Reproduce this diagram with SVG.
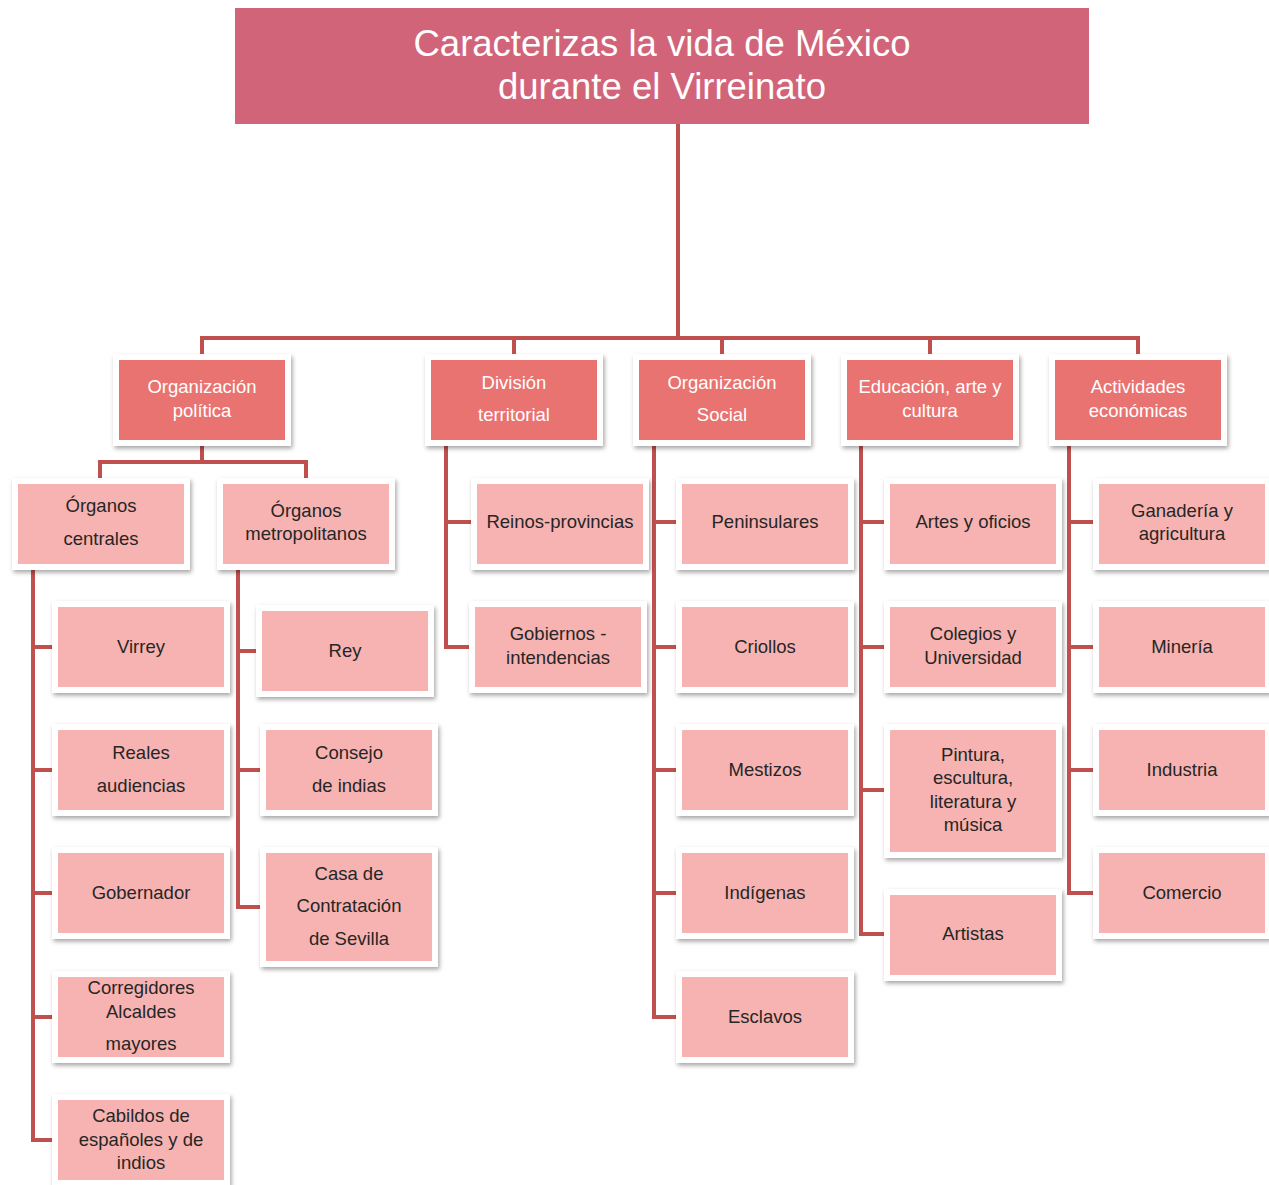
<svg xmlns="http://www.w3.org/2000/svg" width="1269" height="1185" viewBox="0 0 1269 1185">
<defs>
<filter id="sh" x="-10%" y="-10%" width="130%" height="140%">
<feDropShadow dx="1.5" dy="2.5" stdDeviation="2" flood-color="#000" flood-opacity="0.35"/>
</filter>
</defs>
<style>
.frame{fill:#fff;filter:url(#sh)}
.top{fill:#E97371}
.sub{fill:#F7B3B1}
.tt{font-family:"Liberation Sans",Arial,sans-serif;font-size:18.5px;fill:#fff;text-anchor:middle}
.st{font-family:"Liberation Sans",Arial,sans-serif;font-size:18.5px;fill:#262626;text-anchor:middle}
.title{font-family:"Liberation Sans",Arial,sans-serif;font-size:36.5px;fill:#fff;text-anchor:middle}
.ln{fill:none;stroke:#C0504D;stroke-width:4;stroke-linejoin:miter;stroke-linecap:butt}
</style>
<rect width="1269" height="1185" fill="#fff"/>

<g id="connectors">
<path class="ln" d="M678,124 V338 M202,360 V338 H1138 V360 M514,338 V360 M722,338 V360 M930,338 V360"/>
<path class="ln" d="M202,446 V462 M100,484 V462 H306 V484"/>
<path class="ln" d="M33,570 V1140 H58 M33,647 H58 M33,770 H58 M33,893 H58 M33,1017 H58"/>
<path class="ln" d="M238,570 V907 H266 M238,651 H262 M238,770 H266"/>
<path class="ln" d="M446,446 V647 H475 M446,522 H477"/>
<path class="ln" d="M654,446 V1017 H682 M654,522 H682 M654,647 H682 M654,770 H682 M654,893 H682"/>
<path class="ln" d="M861,446 V934 H890 M861,522 H890 M861,647 H890 M861,790 H890"/>
<path class="ln" d="M1069,446 V893 H1099 M1069,522 H1099 M1069,647 H1099 M1069,770 H1099"/>
</g>

<g id="title">
<rect x="235" y="8" width="854" height="116" fill="#D2647A"/>
<text class="title" x="662" y="56">Caracterizas la vida de México</text>
<text class="title" x="662" y="99">durante el Virreinato</text>
</g>

<g id="n-org-politica">
<rect class="frame" x="113" y="354" width="178" height="92"/>
<rect class="top" x="119" y="360" width="166" height="80"/>
<text class="tt" x="202" y="393">Organización</text>
<text class="tt" x="202" y="417">política</text>
</g>
<g id="n-division">
<rect class="frame" x="425" y="354" width="178" height="92"/>
<rect class="top" x="431" y="360" width="166" height="80"/>
<text class="tt" x="514" y="389">División</text>
<text class="tt" x="514" y="421">territorial</text>
</g>
<g id="n-org-social">
<rect class="frame" x="633" y="354" width="178" height="92"/>
<rect class="top" x="639" y="360" width="166" height="80"/>
<text class="tt" x="722" y="389">Organización</text>
<text class="tt" x="722" y="421">Social</text>
</g>
<g id="n-educacion">
<rect class="frame" x="841" y="354" width="178" height="92"/>
<rect class="top" x="847" y="360" width="166" height="80"/>
<text class="tt" x="930" y="393">Educación, arte y</text>
<text class="tt" x="930" y="417">cultura</text>
</g>
<g id="n-actividades">
<rect class="frame" x="1049" y="354" width="178" height="92"/>
<rect class="top" x="1055" y="360" width="166" height="80"/>
<text class="tt" x="1138" y="393">Actividades</text>
<text class="tt" x="1138" y="417">económicas</text>
</g>

<g id="n-organos-centrales">
<rect class="frame" x="12" y="478" width="178" height="92"/>
<rect class="sub" x="18" y="484" width="166" height="80"/>
<text class="st" x="101" y="512">Órganos</text>
<text class="st" x="101" y="545">centrales</text>
</g>
<g id="n-organos-metro">
<rect class="frame" x="217" y="478" width="178" height="92"/>
<rect class="sub" x="223" y="484" width="166" height="80"/>
<text class="st" x="306" y="517">Órganos</text>
<text class="st" x="306" y="540">metropolitanos</text>
</g>

<g id="n-virrey">
<rect class="frame" x="52" y="601" width="178" height="92"/>
<rect class="sub" x="58" y="607" width="166" height="80"/>
<text class="st" x="141" y="653">Virrey</text>
</g>
<g id="n-reales">
<rect class="frame" x="52" y="724" width="178" height="92"/>
<rect class="sub" x="58" y="730" width="166" height="80"/>
<text class="st" x="141" y="759">Reales</text>
<text class="st" x="141" y="792">audiencias</text>
</g>
<g id="n-gobernador">
<rect class="frame" x="52" y="847" width="178" height="92"/>
<rect class="sub" x="58" y="853" width="166" height="80"/>
<text class="st" x="141" y="899">Gobernador</text>
</g>
<g id="n-corregidores">
<rect class="frame" x="52" y="971" width="178" height="92"/>
<rect class="sub" x="58" y="977" width="166" height="80"/>
<text class="st" x="141" y="994">Corregidores</text>
<text class="st" x="141" y="1018">Alcaldes</text>
<text class="st" x="141" y="1050">mayores</text>
</g>
<g id="n-cabildos">
<rect class="frame" x="52" y="1094" width="178" height="92"/>
<rect class="sub" x="58" y="1100" width="166" height="80"/>
<text class="st" x="141" y="1122">Cabildos de</text>
<text class="st" x="141" y="1146">españoles y de</text>
<text class="st" x="141" y="1169">indios</text>
</g>

<g id="n-rey">
<rect class="frame" x="256" y="605" width="178" height="92"/>
<rect class="sub" x="262" y="611" width="166" height="80"/>
<text class="st" x="345" y="657">Rey</text>
</g>
<g id="n-consejo">
<rect class="frame" x="260" y="724" width="178" height="92"/>
<rect class="sub" x="266" y="730" width="166" height="80"/>
<text class="st" x="349" y="759">Consejo</text>
<text class="st" x="349" y="792">de indias</text>
</g>
<g id="n-casa">
<rect class="frame" x="260" y="847" width="178" height="120"/>
<rect class="sub" x="266" y="853" width="166" height="108"/>
<text class="st" x="349" y="880">Casa de</text>
<text class="st" x="349" y="912">Contratación</text>
<text class="st" x="349" y="945">de Sevilla</text>
</g>

<g id="n-reinos">
<rect class="frame" x="471" y="478" width="178" height="92"/>
<rect class="sub" x="477" y="484" width="166" height="80"/>
<text class="st" x="560" y="528">Reinos-provincias</text>
</g>
<g id="n-gobiernos">
<rect class="frame" x="469" y="601" width="178" height="92"/>
<rect class="sub" x="475" y="607" width="166" height="80"/>
<text class="st" x="558" y="640">Gobiernos -</text>
<text class="st" x="558" y="664">intendencias</text>
</g>

<g id="n-peninsulares">
<rect class="frame" x="676" y="478" width="178" height="92"/>
<rect class="sub" x="682" y="484" width="166" height="80"/>
<text class="st" x="765" y="528">Peninsulares</text>
</g>
<g id="n-criollos">
<rect class="frame" x="676" y="601" width="178" height="92"/>
<rect class="sub" x="682" y="607" width="166" height="80"/>
<text class="st" x="765" y="653">Criollos</text>
</g>
<g id="n-mestizos">
<rect class="frame" x="676" y="724" width="178" height="92"/>
<rect class="sub" x="682" y="730" width="166" height="80"/>
<text class="st" x="765" y="776">Mestizos</text>
</g>
<g id="n-indigenas">
<rect class="frame" x="676" y="847" width="178" height="92"/>
<rect class="sub" x="682" y="853" width="166" height="80"/>
<text class="st" x="765" y="899">Indígenas</text>
</g>
<g id="n-esclavos">
<rect class="frame" x="676" y="971" width="178" height="92"/>
<rect class="sub" x="682" y="977" width="166" height="80"/>
<text class="st" x="765" y="1023">Esclavos</text>
</g>

<g id="n-artes">
<rect class="frame" x="884" y="478" width="178" height="92"/>
<rect class="sub" x="890" y="484" width="166" height="80"/>
<text class="st" x="973" y="528">Artes y oficios</text>
</g>
<g id="n-colegios">
<rect class="frame" x="884" y="601" width="178" height="92"/>
<rect class="sub" x="890" y="607" width="166" height="80"/>
<text class="st" x="973" y="640">Colegios y</text>
<text class="st" x="973" y="664">Universidad</text>
</g>
<g id="n-pintura">
<rect class="frame" x="884" y="724" width="178" height="134"/>
<rect class="sub" x="890" y="730" width="166" height="122"/>
<text class="st" x="973" y="761">Pintura,</text>
<text class="st" x="973" y="784">escultura,</text>
<text class="st" x="973" y="808">literatura y</text>
<text class="st" x="973" y="831">música</text>
</g>
<g id="n-artistas">
<rect class="frame" x="884" y="889" width="178" height="92"/>
<rect class="sub" x="890" y="895" width="166" height="80"/>
<text class="st" x="973" y="940">Artistas</text>
</g>

<g id="n-ganaderia">
<rect class="frame" x="1093" y="478" width="178" height="92"/>
<rect class="sub" x="1099" y="484" width="166" height="80"/>
<text class="st" x="1182" y="517">Ganadería y</text>
<text class="st" x="1182" y="540">agricultura</text>
</g>
<g id="n-mineria">
<rect class="frame" x="1093" y="601" width="178" height="92"/>
<rect class="sub" x="1099" y="607" width="166" height="80"/>
<text class="st" x="1182" y="653">Minería</text>
</g>
<g id="n-industria">
<rect class="frame" x="1093" y="724" width="178" height="92"/>
<rect class="sub" x="1099" y="730" width="166" height="80"/>
<text class="st" x="1182" y="776">Industria</text>
</g>
<g id="n-comercio">
<rect class="frame" x="1093" y="847" width="178" height="92"/>
<rect class="sub" x="1099" y="853" width="166" height="80"/>
<text class="st" x="1182" y="899">Comercio</text>
</g>
</svg>
